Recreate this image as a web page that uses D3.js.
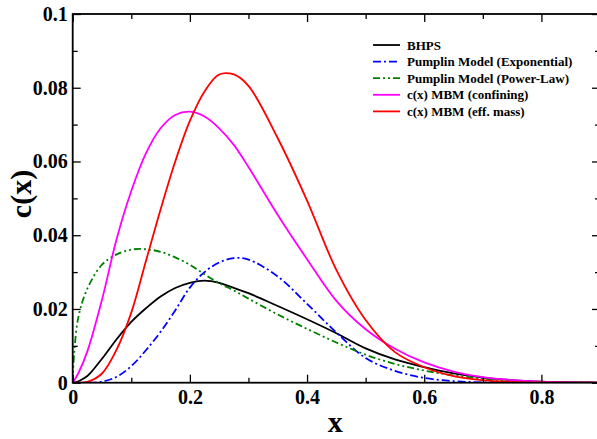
<!DOCTYPE html>
<html>
<head>
<meta charset="utf-8">
<script src="https://cdn.jsdelivr.net/npm/d3@7"></script>
<style>
  body { margin: 0; background: #fff; }
</style>
</head>
<body>
<script>
const width = 597, height = 439;
const serif = "'Liberation Serif', 'Times New Roman', serif";

// x grid shared by every curve
const xGrid = [0, 0.0025, 0.01, 0.025, 0.05, 0.075, 0.1, 0.125, 0.15, 0.175, 0.2, 0.225, 0.25, 0.275, 0.3,
    0.35, 0.4, 0.45, 0.5, 0.55, 0.6, 0.65, 0.7, 0.75, 0.8, 0.85, 0.9];
const bhps = [0, 0.00002, 0.0004, 0.0018, 0.0065, 0.0118, 0.0165, 0.0202, 0.0234, 0.0257, 0.0271, 0.0277, 0.0271, 0.0257, 0.0243,
    0.0208, 0.0172, 0.0134, 0.0093, 0.0063, 0.0042, 0.0025, 0.0014, 0.0007, 0.0003, 0.0001, 0];
const pumplinExp = [0, 0, 0, 0, 0.0003, 0.0016, 0.0045, 0.0088, 0.0138, 0.0196, 0.0258, 0.0300, 0.0326, 0.0338, 0.0334,
    0.0288, 0.0214, 0.0136, 0.0067, 0.0032, 0.0013, 0.0004, 0.0001, 0, 0, 0, 0];
const pumplinPow = [0, 0.008, 0.018, 0.0255, 0.032, 0.0348, 0.0361, 0.0362, 0.0355, 0.0340, 0.0320, 0.0294, 0.0270, 0.0250, 0.0228,
    0.0185, 0.0146, 0.0109, 0.0076, 0.0051, 0.0033, 0.002, 0.0011, 0.0005, 0.0002, 0.0001, 0];
const mbmConf = [0, 0.0006, 0.0027, 0.0085, 0.0225, 0.039, 0.052, 0.0622, 0.0690, 0.0726, 0.0735, 0.0722, 0.0690, 0.0645, 0.0585,
    0.0455, 0.0335, 0.0222, 0.0145, 0.0092, 0.0055, 0.003, 0.0015, 0.0007, 0.0003, 0.0001, 0];
const mbmEff = [0, 0, 0, 0.0002, 0.0025, 0.009, 0.019, 0.033, 0.047, 0.060, 0.071, 0.079, 0.0836, 0.0836, 0.0805,
    0.0663, 0.0494, 0.0306, 0.0170, 0.0083, 0.0042, 0.0018, 0.0007, 0.0002, 0.00005, 0, 0];

const seriesNames = ["BHPS", "Pumplin Model (Exponential)", "Pumplin Model (Power-Law)", "c(x) MBM (confining)", "c(x) MBM (eff. mass)"];
const seriesValues = [bhps, pumplinExp, pumplinPow, mbmConf, mbmEff];
const seriesColors = ["#000000", "#0000ff", "#008000", "#ff00ff", "#ff0000"];
const seriesDash = [null, "8,3,2,3", "7,3,2,3,2,3", null, null];

const xTicks = [0, 0.2, 0.4, 0.6, 0.8];
const xMinor = [0.1, 0.3, 0.5, 0.7, 0.9];
const yTicks = [0, 0.02, 0.04, 0.06, 0.08, 0.1];
const yMinor = [0.01, 0.03, 0.05, 0.07, 0.09];
const yTickLabels = ["0", "0.02", "0.04", "0.06", "0.08", "0.1"];

const plotLeft = 72.7, plotRight = 600, plotTop = 14, plotBottom = 382.7;

const svg = d3.select("body").append("svg")
    .attr("width", width)
    .attr("height", height)

const xScale = d3.scaleLinear().domain([0, 0.9]).range([plotLeft, plotRight])
const yScale = d3.scaleLinear().domain([0, 0.1]).range([plotBottom, plotTop])

svg.append("clipPath").attr("id", "clip")
    .append("rect")
    .attr("x", plotLeft).attr("y", plotTop)
    .attr("width", plotRight - plotLeft).attr("height", plotBottom - plotTop)

const line = d3.line()
    .x(d => xScale(d[0]))
    .y(d => yScale(Math.max(0, d[1])))
    .curve(d3.curveCatmullRom.alpha(0.5))

const curves = svg.append("g").attr("clip-path", "url(#clip)")
seriesValues.forEach((vals, i) => {
    curves.append("path")
        .datum(xGrid.map((x, j) => [x, vals[j]]))
        .attr("fill", "none")
        .attr("stroke", seriesColors[i])
        .attr("stroke-width", 1.8)
        .attr("stroke-dasharray", seriesDash[i])
        .attr("d", line)
});

// axes: ticks point inward
const styleAxis = g => {
    g.select(".domain").remove();
    g.selectAll("line").attr("stroke", "#000").attr("stroke-width", 1.3);
    g.selectAll("text")
        .style("font-family", serif)
        .style("font-weight", "bold")
        .style("font-size", "20px")
        .attr("fill", "#000");
}
svg.append("g").attr("transform", "translate(0," + plotBottom + ")")
    .call(d3.axisBottom(xScale).tickValues(xTicks).tickSizeInner(-8).tickSizeOuter(0).tickPadding(7)
        .tickFormat(d => d === 0 ? "0" : d3.format(".1f")(d)))
    .call(styleAxis)
svg.append("g").attr("transform", "translate(0," + plotBottom + ")")
    .call(d3.axisBottom(xScale).tickValues(xMinor).tickSizeInner(-5).tickSizeOuter(0).tickFormat(""))
    .call(styleAxis)
svg.append("g").attr("transform", "translate(0," + plotTop + ")")
    .call(d3.axisTop(xScale).tickValues(xTicks).tickSizeInner(-8).tickSizeOuter(0).tickFormat(""))
    .call(styleAxis)
svg.append("g").attr("transform", "translate(0," + plotTop + ")")
    .call(d3.axisTop(xScale).tickValues(xMinor).tickSizeInner(-5).tickSizeOuter(0).tickFormat(""))
    .call(styleAxis)
svg.append("g").attr("transform", "translate(" + plotLeft + ",0)")
    .call(d3.axisLeft(yScale).tickValues(yTicks).tickSizeInner(-8).tickSizeOuter(0).tickPadding(5)
        .tickFormat((d, i) => yTickLabels[i]))
    .call(styleAxis)
svg.append("g").attr("transform", "translate(" + plotLeft + ",0)")
    .call(d3.axisLeft(yScale).tickValues(yMinor).tickSizeInner(-5).tickSizeOuter(0).tickFormat(""))
    .call(styleAxis)
svg.append("g").attr("transform", "translate(" + plotRight + ",0)")
    .call(d3.axisRight(yScale).tickValues(yTicks).tickSizeInner(-8).tickSizeOuter(0).tickFormat(""))
    .call(styleAxis)
svg.append("g").attr("transform", "translate(" + plotRight + ",0)")
    .call(d3.axisRight(yScale).tickValues(yMinor).tickSizeInner(-5).tickSizeOuter(0).tickFormat(""))
    .call(styleAxis)

svg.append("rect")
    .attr("x", plotLeft).attr("y", plotTop)
    .attr("width", plotRight - plotLeft).attr("height", plotBottom - plotTop)
    .attr("fill", "none")
    .attr("stroke", "#000")
    .attr("stroke-width", 1.8)

// axis titles
svg.append("text")
    .attr("x", (plotLeft + plotRight) / 2 - 1)
    .attr("y", 432)
    .attr("text-anchor", "middle")
    .style("font-family", serif)
    .style("font-weight", "bold")
    .style("font-size", "30px")
    .text("x")
svg.append("text")
    .attr("transform", "translate(31,194) rotate(-90)")
    .attr("text-anchor", "middle")
    .style("font-family", serif)
    .style("font-weight", "bold")
    .style("font-size", "30px")
    .text("c(x)")

// legend
const legend = svg.append("g").attr("id", "legend")
seriesNames.forEach((name, i) => {
    const ly = 45 + i * 16.6;
    legend.append("line")
        .attr("x1", 373).attr("x2", 400)
        .attr("y1", ly).attr("y2", ly)
        .attr("stroke", seriesColors[i])
        .attr("stroke-width", 1.8)
        .attr("stroke-dasharray", seriesDash[i])
    legend.append("text")
        .attr("x", 407)
        .attr("y", ly + 4.5)
        .style("font-family", serif)
        .style("font-weight", "bold")
        .style("font-size", "13px")
        .text(name)
});
</script>
</body>
</html>
